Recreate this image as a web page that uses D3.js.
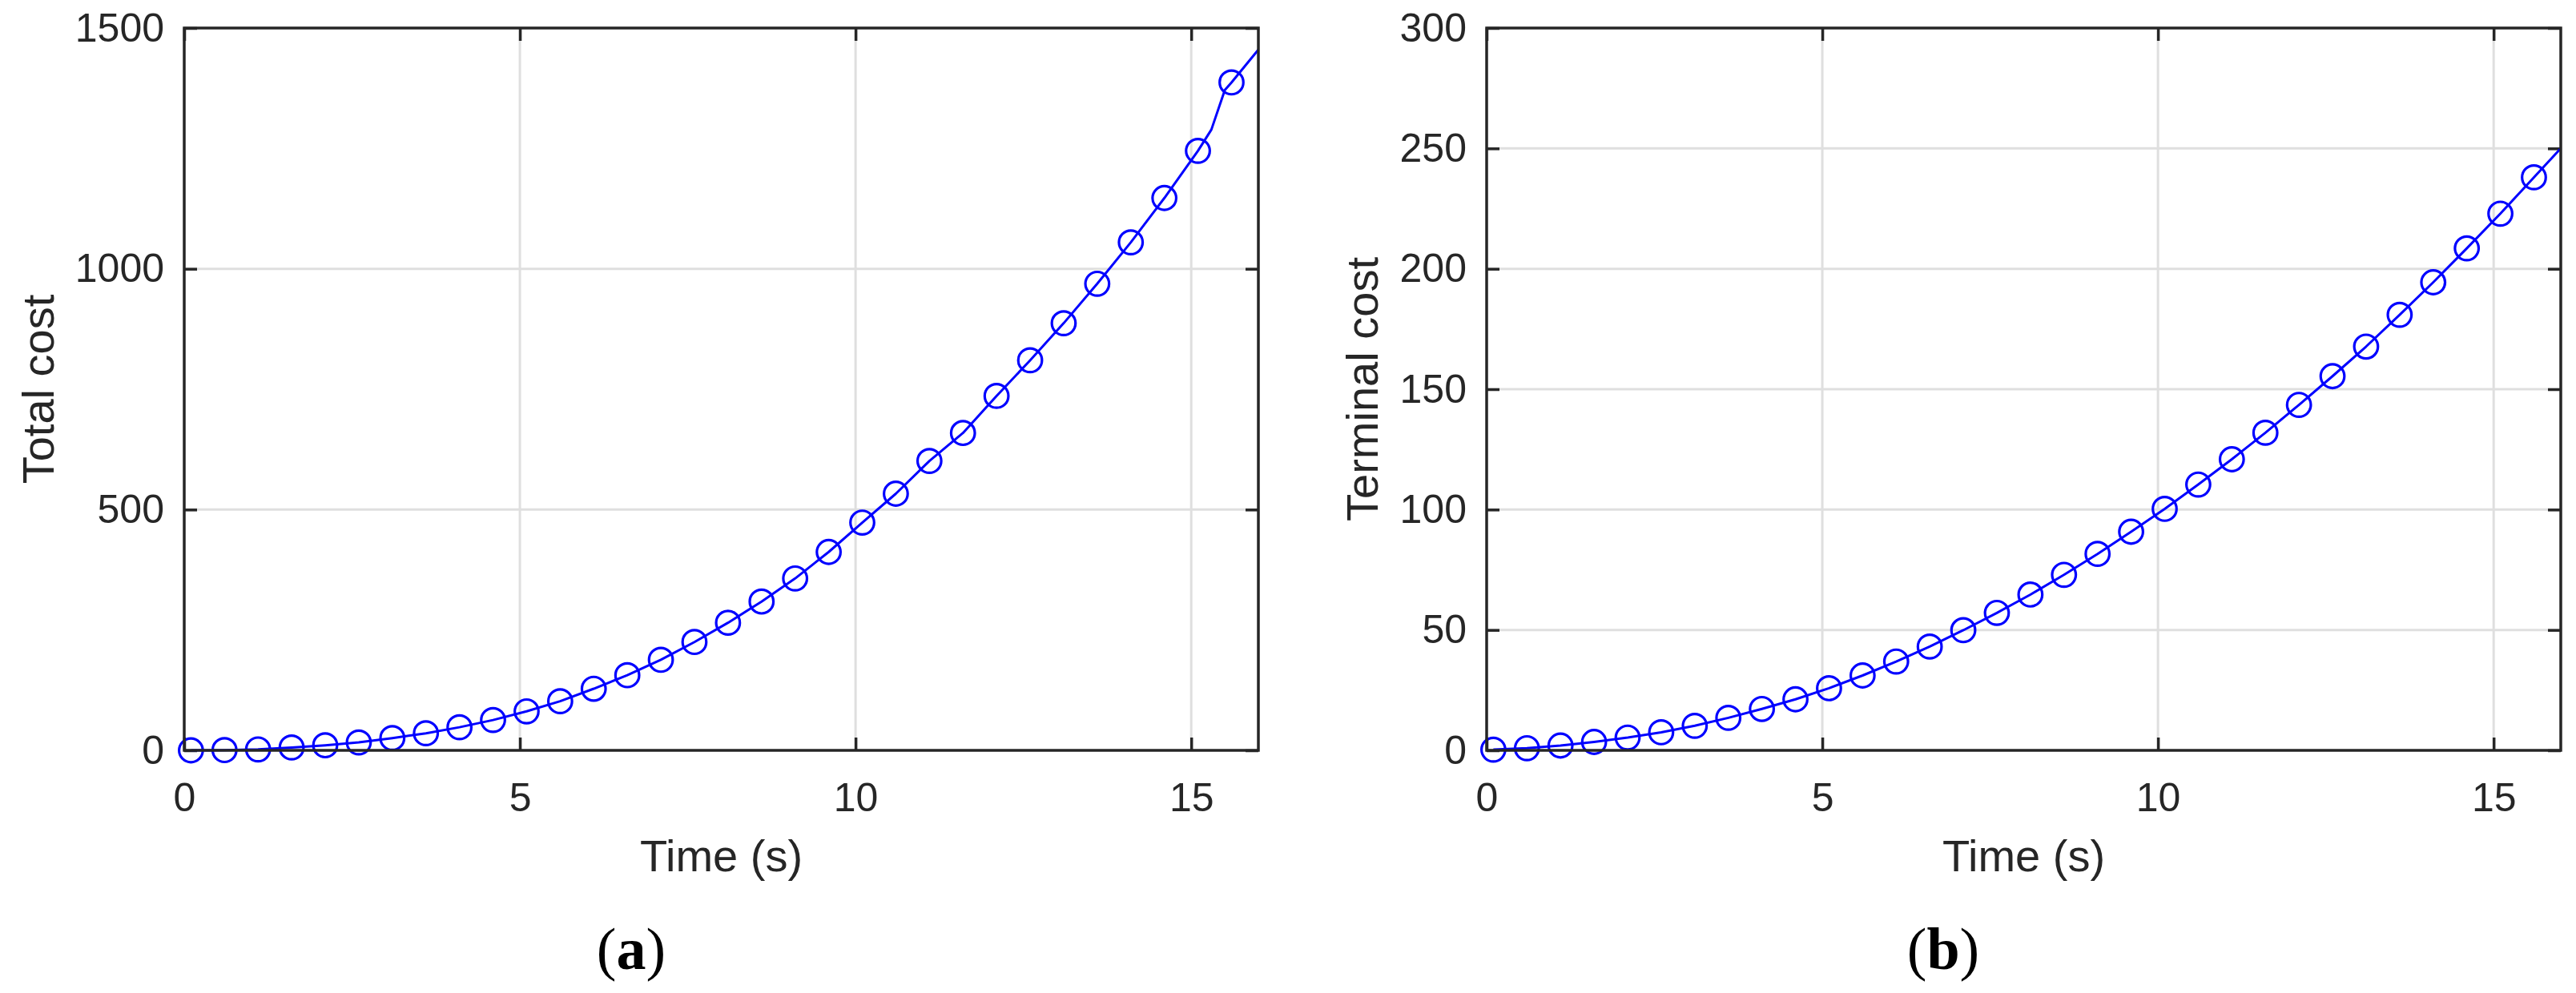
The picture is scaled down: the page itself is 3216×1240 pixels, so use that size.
<!DOCTYPE html>
<html>
<head>
<meta charset="utf-8">
<script src="https://cdn.jsdelivr.net/npm/d3@7"></script>
<style>
  html, body { margin: 0; padding: 0; background: #ffffff; }
  svg { display: block; }
</style>
</head>
<body>
<svg id="chart" width="3216" height="1240"></svg>
<script>
// ---------------- data ----------------
const markerTimes = [0.1, 0.6, 1.1, 1.6, 2.1, 2.6, 3.1, 3.6, 4.1, 4.6, 5.1, 5.6, 6.1, 6.6, 7.1, 7.6,
                     8.1, 8.6, 9.1, 9.6, 10.1, 10.6, 11.1, 11.6, 12.1, 12.6, 13.1, 13.6, 14.1, 14.6, 15.1, 15.6];
const totalCost = [0, 0.5, 2, 6, 10.5, 16.5, 25.5, 35.5, 48, 63, 81, 102, 128, 156, 188, 225,
                   265, 309, 357, 412, 473, 533, 601, 659, 736, 810, 887, 969, 1055, 1147, 1245, 1387];
const terminalCost = [0.3, 0.9, 2.0, 3.5, 5.3, 7.5, 10.2, 13.5, 17.2, 21.2, 25.8, 31.1, 36.9, 43.1, 49.9, 57.1,
                      64.7, 72.9, 81.6, 90.8, 100.3, 110.4, 120.9, 131.9, 143.5, 155.4, 167.7, 180.9, 194.4, 208.5, 222.9, 238];
// extra line-only samples (the line is sampled more densely than the markers)
const totalExtraTimes = [15.3, 15.5, 16.0];
const totalExtraValues = [1289, 1371, 1455];
const terminalExtraTimes = [16.0];
const terminalExtraValues = [250];

const xTicks = [0, 5, 10, 15];
const totalTicks = [0, 500, 1000, 1500];
const terminalTicks = [0, 50, 100, 150, 200, 250, 300];
const xLabel = "Time (s)";
const panels = [
  { ylabel: "Total cost", sub: "a", values: totalCost, exT: totalExtraTimes, exV: totalExtraValues,
    yMax: 1500, yTicks: totalTicks },
  { ylabel: "Terminal cost", sub: "b", values: terminalCost, exT: terminalExtraTimes, exV: terminalExtraValues,
    yMax: 300, yTicks: terminalTicks }
];

// ---------------- layout ----------------
const layout = [
  { left: 230, right: 1571, ylabelX: 47, subX: 788 },
  { left: 1856, right: 3197, ylabelX: 1700, subX: 2426 }
];
const plotTop = 35, plotBottom = 937;
const axisColor = "#262626";
const gridColor = "#dfdfdf";
const lineColor = "#0000ff";
const sans = "'Liberation Sans', Arial, Helvetica, sans-serif";
const tickFont = 50, labelFont = 56;

const svg = d3.select("#chart");
svg.append("rect").attr("width", 3216).attr("height", 1240).attr("fill", "#fff");

panels.forEach((p, i) => {
  const L = layout[i];
  const x = d3.scaleLinear().domain([0, 16]).range([L.left, L.right]);
  const y = d3.scaleLinear().domain([0, p.yMax]).range([plotBottom, plotTop]);
  const g = svg.append("g");

  // grid
  g.append("g").selectAll("line").data(xTicks.filter(t => t > 0 && t < 16)).join("line")
    .attr("x1", d => x(d)).attr("x2", d => x(d)).attr("y1", plotTop).attr("y2", plotBottom)
    .attr("stroke", gridColor).attr("stroke-width", 3);
  g.append("g").selectAll("line").data(p.yTicks.filter(t => t > 0 && t < p.yMax)).join("line")
    .attr("x1", L.left).attr("x2", L.right).attr("y1", d => y(d)).attr("y2", d => y(d))
    .attr("stroke", gridColor).attr("stroke-width", 3);

  // axes (ticks inward)
  const styleAxis = sel => {
    sel.select(".domain").remove();
    sel.selectAll(".tick line").attr("stroke", axisColor).attr("stroke-width", 3.5);
    sel.selectAll(".tick text").attr("fill", axisColor).style("font-family", sans).style("font-size", tickFont + "px");
  };
  g.append("g").attr("transform", `translate(0,${plotBottom})`)
    .call(d3.axisBottom(x).tickValues(xTicks).tickSize(-16).tickPadding(40).tickFormat(d3.format("d")))
    .call(styleAxis);
  g.append("g").attr("transform", `translate(0,${plotTop})`)
    .call(d3.axisTop(x).tickValues(xTicks).tickSize(-16).tickFormat(""))
    .call(styleAxis);
  g.append("g").attr("transform", `translate(${L.left},0)`)
    .call(d3.axisLeft(y).tickValues(p.yTicks).tickSize(-16).tickPadding(25).tickFormat(d3.format("d")))
    .call(styleAxis);
  g.append("g").attr("transform", `translate(${L.right},0)`)
    .call(d3.axisRight(y).tickValues(p.yTicks).tickSize(-16).tickFormat(""))
    .call(styleAxis);

  // data line
  const markerPts = markerTimes.map((t, k) => [t, p.values[k]]);
  const pts = markerPts.concat(p.exT.map((t, k) => [t, p.exV[k]])).sort((a, b) => a[0] - b[0]);
  g.append("path").datum(pts)
    .attr("d", d3.line().x(d => x(d[0])).y(d => y(d[1])))
    .attr("fill", "none").attr("stroke", lineColor).attr("stroke-width", 3)
    .attr("stroke-linejoin", "round");
  g.append("g").selectAll("circle").data(markerPts).join("circle")
    .attr("cx", d => x(d[0])).attr("cy", d => y(d[1])).attr("r", 14.8)
    .attr("fill", "none").attr("stroke", lineColor).attr("stroke-width", 3.2);

  // box
  g.append("rect").attr("x", L.left).attr("y", plotTop)
    .attr("width", L.right - L.left).attr("height", plotBottom - plotTop)
    .attr("fill", "none").attr("stroke", axisColor).attr("stroke-width", 3.5);

  // labels
  g.append("text").attr("x", (L.left + L.right) / 2).attr("y", 1088)
    .attr("text-anchor", "middle").attr("fill", axisColor)
    .style("font-family", sans).style("font-size", labelFont + "px").text(xLabel);
  g.append("text").attr("transform", `translate(${L.ylabelX},${(plotTop + plotBottom) / 2}) rotate(-90)`)
    .attr("text-anchor", "middle").attr("dy", "0.35em").attr("fill", axisColor)
    .style("font-family", sans).style("font-size", labelFont + "px").text(p.ylabel);

  const st = g.append("text").attr("x", L.subX).attr("y", 1210).attr("text-anchor", "middle")
    .attr("fill", "#000").style("font-family", "'Liberation Serif', 'Times New Roman', serif")
    .style("font-size", "74px");
  st.append("tspan").text("(");
  st.append("tspan").style("font-weight", "bold").text(p.sub);
  st.append("tspan").text(")");
});
</script>
</body>
</html>
